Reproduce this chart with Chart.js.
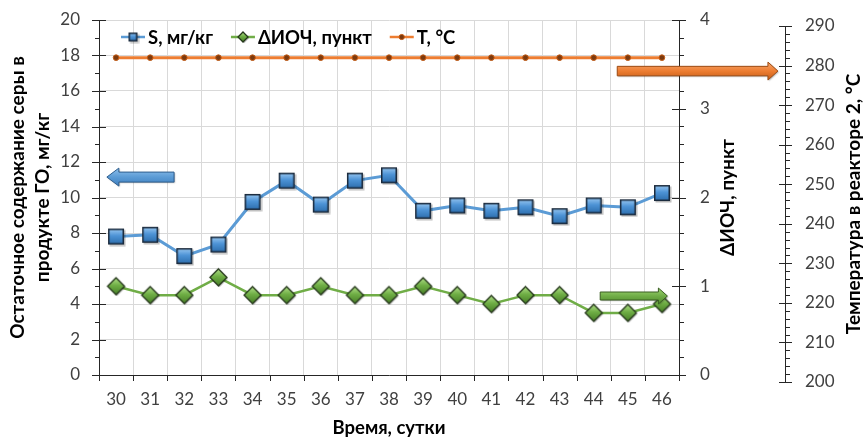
<!DOCTYPE html>
<html>
<head>
<meta charset="utf-8">
<script src="https://cdn.jsdelivr.net/npm/chart.js@4/dist/chart.umd.min.js"></script>
<style>
  html, body { margin: 0; padding: 0; background: #fff; }
  canvas { display: block; }
</style>
</head>
<body>
<canvas id="chart" width="863" height="439"></canvas>
<script>
// Days of the run
const days = ['30', '31', '32', '33', '34', '35', '36', '37', '38', '39', '40', '41', '42', '43', '44', '45', '46'];
// Residual sulfur in the hydrotreated product, mg/kg
const sulfur = [7.8, 7.9, 6.7, 7.35, 9.75, 10.95, 9.6, 10.95, 11.25, 9.25, 9.55, 9.25, 9.45, 8.95, 9.55, 9.45, 10.25];
// Octane number loss, points
const octaneDelta = [1.0, 0.9, 0.9, 1.1, 0.9, 0.9, 1.0, 0.9, 0.9, 1.0, 0.9, 0.8, 0.9, 0.9, 0.7, 0.7, 0.8];
// Reactor 2 temperature, °C
const reactorTemp = [282, 282, 282, 282, 282, 282, 282, 282, 282, 282, 282, 282, 282, 282, 282, 282, 282];

// Axis ranges: [min, max, major step, minor step]
const sulfurAxis = [0, 20, 2, 1];
const octaneAxis = [0, 4, 1, 0.2];
const tempAxis = [200, 290, 10, 2];

const seriesNames = ['S, мг/кг', 'ΔИОЧ, пункт', 'T, °C'];
const sulfurTitle = ['Остаточное содержание серы в', 'продукте ГО, мг/кг'];
const octaneTitle = 'ΔИОЧ, пункт';
const tempTitle = 'Температура в реакторе 2, °C';
const timeTitle = 'Время, сутки';

const FONT = 'Lato, "Noto Sans", sans-serif';
const BLUE = '#5b9bd5', GREEN = '#70ad47', ORANGE = '#ed7d31';
const AXIS = '#262626', GRID = '#d9d9d9', TICKTEXT = '#404040';

Chart.defaults.font.family = FONT;

// Bevelled marker sprites
function squareMarker(size) {
  const c = document.createElement('canvas');
  c.width = c.height = size + 4;
  const g = c.getContext('2d');
  const o = 2;
  g.fillStyle = 'rgba(0,0,0,0.25)';
  g.fillRect(o + 1.5, o + 1.5, size, size);
  const gr = g.createLinearGradient(0, o, 0, o + size);
  gr.addColorStop(0, '#9ccaf2');
  gr.addColorStop(0.45, '#4d93d6');
  gr.addColorStop(1, '#2b6cab');
  g.fillStyle = gr;
  g.fillRect(o, o, size, size);
  g.strokeStyle = '#1b2a3c';
  g.lineWidth = 1.5;
  g.strokeRect(o + 0.75, o + 0.75, size - 1.5, size - 1.5);
  return c;
}
function diamondMarker(size) {
  const c = document.createElement('canvas');
  c.width = c.height = size + 4;
  const g = c.getContext('2d');
  const m = (size + 4) / 2, h = size / 2;
  const path = (dx, dy) => {
    g.beginPath();
    g.moveTo(m + dx, m - h + dy);
    g.lineTo(m + h + dx, m + dy);
    g.lineTo(m + dx, m + h + dy);
    g.lineTo(m - h + dx, m + dy);
    g.closePath();
  };
  path(1.2, 1.2);
  g.fillStyle = 'rgba(0,0,0,0.25)';
  g.fill();
  path(0, 0);
  const gr = g.createLinearGradient(0, m - h, 0, m + h);
  gr.addColorStop(0, '#b2e08a');
  gr.addColorStop(0.45, '#6fae45');
  gr.addColorStop(1, '#477f27');
  g.fillStyle = gr;
  g.fill();
  g.strokeStyle = '#24361a';
  g.lineWidth = 1.3;
  g.stroke();
  return c;
}

const sqBig = squareMarker(16), dmBig = diamondMarker(17);
const sqSmall = squareMarker(9), dmSmall = diamondMarker(10);

function crisp(v) { return Math.round(v) + 0.5; }

function drawArrow(ctx, xTail, xTip, y, bodyH, headH, headL, light, fill, dark, stroke) {
  const d = xTip > xTail ? 1 : -1;
  const xb = xTip - d * headL;
  ctx.save();
  ctx.beginPath();
  ctx.moveTo(xTail, y - bodyH / 2);
  ctx.lineTo(xb, y - bodyH / 2);
  ctx.lineTo(xb, y - headH / 2);
  ctx.lineTo(xTip, y);
  ctx.lineTo(xb, y + headH / 2);
  ctx.lineTo(xb, y + bodyH / 2);
  ctx.lineTo(xTail, y + bodyH / 2);
  ctx.closePath();
  ctx.shadowColor = 'rgba(0,0,0,0.3)';
  ctx.shadowOffsetX = 1;
  ctx.shadowOffsetY = 1;
  ctx.shadowBlur = 1.5;
  const gr = ctx.createLinearGradient(0, y - headH / 2, 0, y + headH / 2);
  gr.addColorStop(0, light);
  gr.addColorStop(0.5, fill);
  gr.addColorStop(1, dark);
  ctx.fillStyle = gr;
  ctx.fill();
  ctx.shadowColor = 'transparent';
  ctx.strokeStyle = stroke;
  ctx.lineWidth = 1;
  ctx.stroke();
  ctx.restore();
}

// Title rotated to read bottom to top; x is the text baseline
function verticalTitle(ctx, text, x, y, size) {
  ctx.save();
  ctx.translate(x, y);
  ctx.rotate(-Math.PI / 2);
  ctx.font = 'bold ' + size + 'px ' + FONT;
  ctx.fillStyle = '#000';
  ctx.textAlign = 'center';
  ctx.textBaseline = 'alphabetic';
  ctx.fillText(text, 0, 0);
  ctx.restore();
}

// Vertical scales keep only the layout padding at the top and bottom
function noVerticalOverflow(s) {
  s.paddingTop = 0;
  s.paddingBottom = 0;
}

const decor = {
  id: 'decor',
  afterLayout(chart) {
    // the temperature scale sits a few pixels lower than the plot frame
    const t = chart.scales.yT;
    t.top = chart.chartArea.top + 6;
    t.bottom = chart.chartArea.bottom + 7;
    t.height = t.bottom - t.top;
    t.configure();
  },
  afterDraw(chart) {
    const ctx = chart.ctx;
    const { x, yS, y1, yT } = chart.scales;
    ctx.save();
    ctx.strokeStyle = AXIS;
    ctx.lineWidth = 1;
    ctx.beginPath();
    // category tick marks
    for (let i = 0; i <= days.length; i++) {
      const px = crisp(x.getPixelForValue(i - 0.5));
      ctx.moveTo(px, x.top);
      ctx.lineTo(px, x.top + 6);
    }
    // left scale: majors cross the axis, minors point outwards
    const xl = crisp(yS.right) - 0.5;
    for (let v = sulfurAxis[0]; v <= sulfurAxis[1] + 1e-9; v += sulfurAxis[3]) {
      const py = crisp(yS.getPixelForValue(v));
      const major = Math.abs(v / sulfurAxis[2] - Math.round(v / sulfurAxis[2])) < 1e-6;
      ctx.moveTo(xl - (major ? 7 : 4), py);
      ctx.lineTo(xl + (major ? 7 : 0), py);
    }
    const xr = crisp(y1.left) - 0.5;
    for (let k = 0; k <= Math.round((octaneAxis[1] - octaneAxis[0]) / octaneAxis[3]); k++) {
      const v = octaneAxis[0] + k * octaneAxis[3];
      const py = crisp(y1.getPixelForValue(v));
      const major = k % Math.round(octaneAxis[2] / octaneAxis[3]) === 0;
      ctx.moveTo(xr - (major ? 7 : 0), py);
      ctx.lineTo(xr + (major ? 7 : 5), py);
    }
    const xt = crisp(yT.left) - 0.5;
    for (let k = 0; k <= Math.round((tempAxis[1] - tempAxis[0]) / tempAxis[3]); k++) {
      const v = tempAxis[0] + k * tempAxis[3];
      const py = crisp(yT.getPixelForValue(v));
      const major = k % Math.round(tempAxis[2] / tempAxis[3]) === 0;
      ctx.moveTo(xt - (major ? 6 : 0), py);
      ctx.lineTo(xt + (major ? 7 : 5), py);
    }
    ctx.stroke();
    ctx.restore();

    // right-hand axis titles, read bottom to top
    verticalTitle(ctx, octaneTitle, y1.left + 55, (y1.top + y1.bottom) / 2, 19);
    verticalTitle(ctx, tempTitle, yT.left + 75, (yT.top + yT.bottom) / 2, 19);

    // pointer arrows linking each series to its scale
    drawArrow(ctx, x.getPixelForValue(1.7), x.getPixelForValue(-0.27), yS.getPixelForValue(11.15),
      10, 18, 12, '#8fc0ec', BLUE, '#3f7fbf', '#2e5e8e');
    drawArrow(ctx, x.getPixelForValue(14.19), x.getPixelForValue(16.16), y1.getPixelForValue(0.89),
      8, 16, 9, '#9fd673', GREEN, '#4f8a2c', '#3a5f22');
    drawArrow(ctx, x.getPixelForValue(14.69), x.getPixelForValue(19.4), yT.getPixelForValue(278.6),
      9.5, 18, 10, '#f6a66e', ORANGE, '#c45c17', '#9c4a12');

    // legend: line sample with marker, then the series name
    ctx.save();
    ctx.font = 'bold 18.5px ' + FONT;
    ctx.textBaseline = 'middle';
    ctx.textAlign = 'left';
    ctx.fillStyle = '#000';
    const ly = chart.chartArea.top + 17;
    let lx = chart.chartArea.left + 22;
    const colors = [BLUE, GREEN, ORANGE];
    seriesNames.forEach((name, i) => {
      ctx.strokeStyle = colors[i];
      ctx.lineWidth = 2.5;
      ctx.beginPath();
      ctx.moveTo(lx, ly);
      ctx.lineTo(lx + 24, ly);
      ctx.stroke();
      const cx = lx + 12;
      if (i === 0) ctx.drawImage(sqSmall, cx - sqSmall.width / 2, ly - sqSmall.height / 2);
      else if (i === 1) ctx.drawImage(dmSmall, cx - dmSmall.width / 2, ly - dmSmall.height / 2);
      else {
        ctx.beginPath();
        ctx.arc(cx, ly, 2.6, 0, Math.PI * 2);
        ctx.fillStyle = '#7a3a10';
        ctx.fill();
        ctx.strokeStyle = '#c55a11';
        ctx.lineWidth = 1;
        ctx.stroke();
        ctx.fillStyle = '#000';
      }
      ctx.fillText(name, lx + 27, ly + 1);
      lx += 27 + ctx.measureText(name).width + 18;
    });
    ctx.restore();
  }
};

const tickFont = { size: 17 };

new Chart(document.getElementById('chart'), {
  type: 'line',
  data: {
    labels: days,
    datasets: [
      {
        label: seriesNames[0], data: sulfur, yAxisID: 'yS',
        borderColor: BLUE, borderWidth: 3, tension: 0,
        pointStyle: sqBig, pointRadius: 8, pointHoverRadius: 8
      },
      {
        label: seriesNames[1], data: octaneDelta, yAxisID: 'y1',
        borderColor: GREEN, borderWidth: 2.5, tension: 0,
        pointStyle: dmBig, pointRadius: 8, pointHoverRadius: 8
      },
      {
        label: seriesNames[2], data: reactorTemp, yAxisID: 'yT',
        borderColor: ORANGE, borderWidth: 3, tension: 0,
        pointStyle: 'circle', pointRadius: 2.8, pointBorderWidth: 1,
        pointBackgroundColor: '#7a3a10', pointBorderColor: '#c55a11'
      }
    ]
  },
  options: {
    responsive: false,
    animation: false,
    events: [],
    layout: { padding: { top: 20, left: 0, right: 0, bottom: 0 } },
    plugins: { legend: { display: false }, tooltip: { enabled: false } },
    scales: {
      x: {
        type: 'category',
        offset: true,
        grid: { offset: true, color: GRID, lineWidth: 1, drawTicks: false },
        border: { display: true, color: AXIS, width: 1 },
        ticks: { color: TICKTEXT, font: tickFont, padding: 14, maxRotation: 0, autoSkip: false },
        title: { display: true, text: timeTitle, color: '#000',
                 font: { size: 18.5, weight: 'bold' }, padding: { top: 0, bottom: 0 } },
        afterFit: (s) => { s.height = 64; s.paddingLeft = 0; s.paddingRight = 0; }
      },
      yS: {
        position: 'left',
        min: sulfurAxis[0], max: sulfurAxis[1],
        grid: { color: GRID, lineWidth: 1, drawTicks: false },
        border: { display: true, color: AXIS, width: 1 },
        ticks: { stepSize: sulfurAxis[2], color: TICKTEXT, font: tickFont, padding: 19 },
        title: { display: true, text: sulfurTitle, color: '#000',
                 font: { size: 19, weight: 'bold', lineHeight: 1.32 }, padding: { top: 5.5, bottom: 0 } },
        afterFit: (s) => { s.width = 99; noVerticalOverflow(s); }
      },
      y1: {
        position: 'right', weight: 0,
        min: octaneAxis[0], max: octaneAxis[1],
        grid: { display: false, drawTicks: false },
        border: { display: true, color: AXIS, width: 1 },
        ticks: { stepSize: octaneAxis[2], color: TICKTEXT, font: tickFont, padding: 21 },
        afterFit: (s) => { s.width = 106; noVerticalOverflow(s); }
      },
      yT: {
        position: 'right', weight: 1,
        min: tempAxis[0], max: tempAxis[1],
        grid: { display: false, drawTicks: false },
        border: { display: true, color: AXIS, width: 1 },
        ticks: { stepSize: tempAxis[2], color: TICKTEXT, font: tickFont, padding: 20 },
        afterFit: (s) => { s.width = 78; noVerticalOverflow(s); }
      }
    }
  },
  plugins: [decor]
});
</script>
</body>
</html>
